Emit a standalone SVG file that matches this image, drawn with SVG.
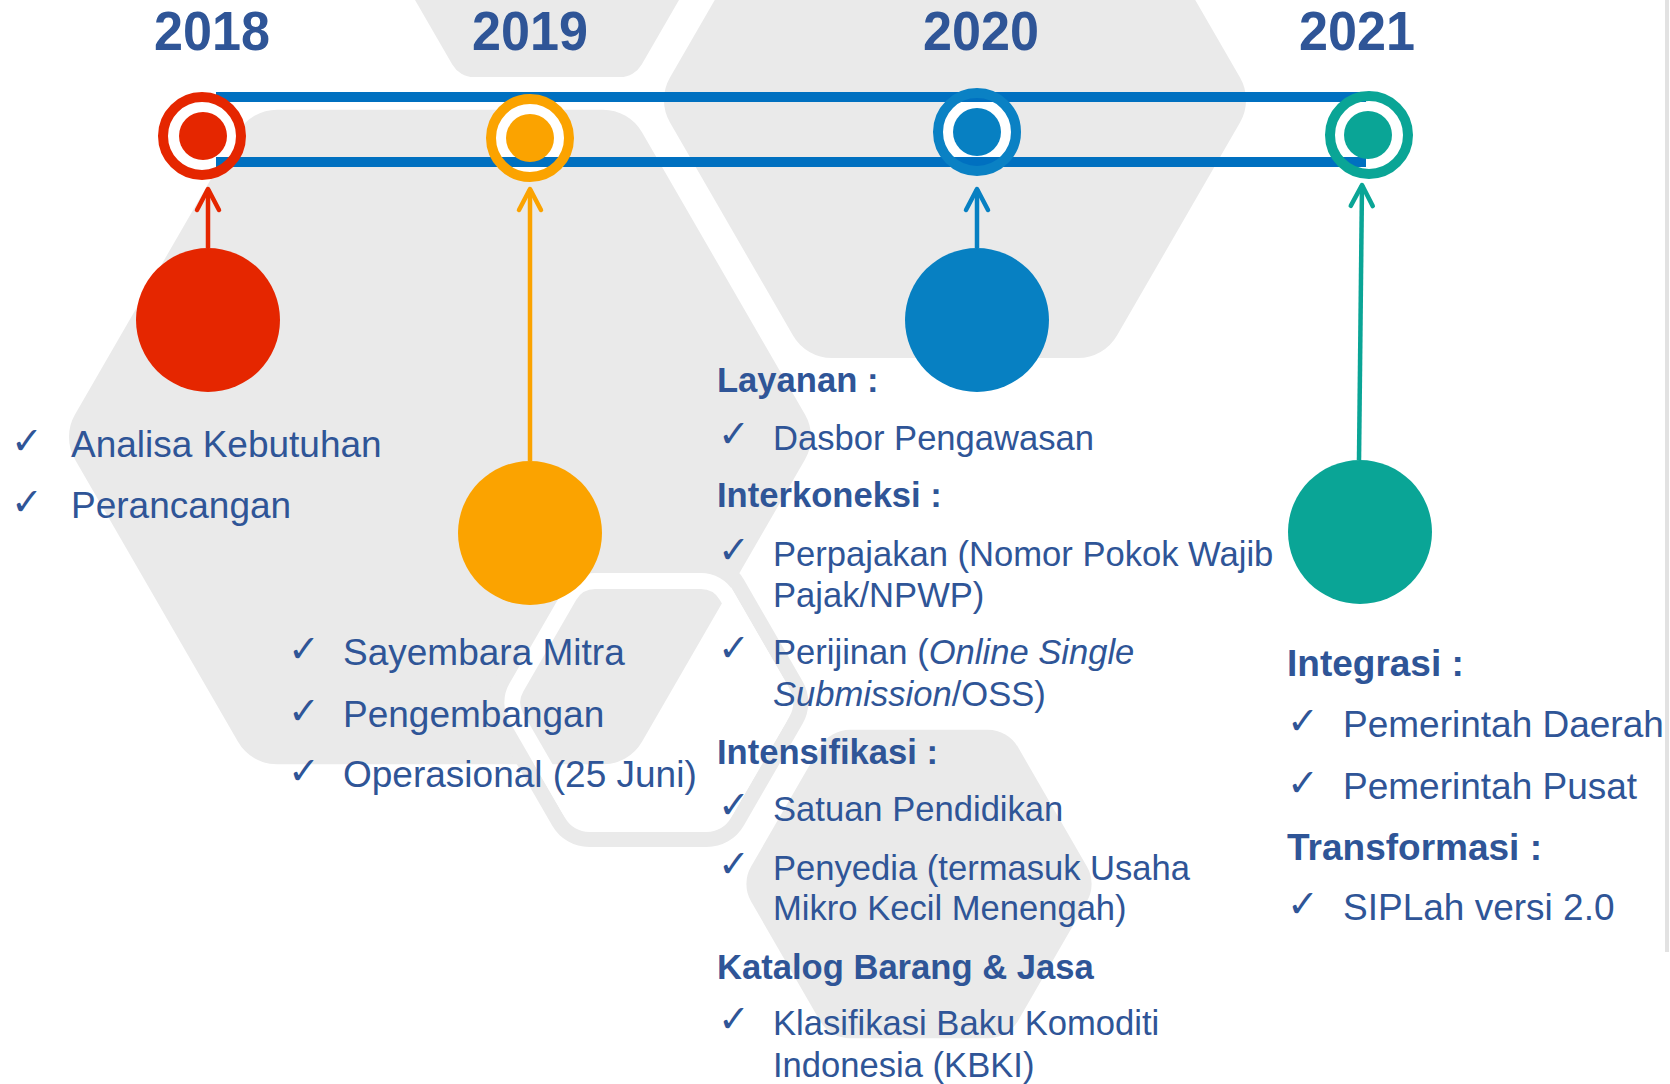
<svg xmlns="http://www.w3.org/2000/svg" width="1670" height="1084" viewBox="0 0 1670 1084">
<style>
.hex{fill:#EAEAEA}
.yr{font-family:"Liberation Sans",Arial,sans-serif;font-weight:bold;font-size:56px;fill:#2F5597;text-anchor:middle}
.t{font-family:"Liberation Sans",Arial,sans-serif;font-size:37px;fill:#2F5597}
.t2{font-family:"Liberation Sans",Arial,sans-serif;font-size:34.6px;fill:#2F5597}
.h{font-family:"Liberation Sans",Arial,sans-serif;font-weight:bold;font-size:37px;fill:#2F5597}
.h2{font-family:"Liberation Sans",Arial,sans-serif;font-weight:bold;font-size:34.6px;fill:#2F5597}
.ck{font-family:"DejaVu Sans",sans-serif;font-size:38px;fill:#2F5597}
.bar{fill:#0070C0}
.ring{fill:none;stroke-width:10}
.arr{fill:none;stroke-width:4.5}
.mk{fill:none;stroke-width:4.5;stroke-linecap:round;stroke-linejoin:round}
</style>
<defs>
<marker id="mRed" markerUnits="userSpaceOnUse" markerWidth="30" markerHeight="30" refX="22" refY="13" orient="auto" overflow="visible"><path class="mk" d="M1,2 L22,13 L1,24" stroke="#E52600"/></marker>
<marker id="mYel" markerUnits="userSpaceOnUse" markerWidth="30" markerHeight="30" refX="22" refY="13" orient="auto" overflow="visible"><path class="mk" d="M1,2 L22,13 L1,24" stroke="#FBA300"/></marker>
<marker id="mBlu" markerUnits="userSpaceOnUse" markerWidth="30" markerHeight="30" refX="22" refY="13" orient="auto" overflow="visible"><path class="mk" d="M1,2 L22,13 L1,24" stroke="#0780C2"/></marker>
<marker id="mTea" markerUnits="userSpaceOnUse" markerWidth="30" markerHeight="30" refX="22" refY="13" orient="auto" overflow="visible"><path class="mk" d="M1,2 L22,13 L1,24" stroke="#0AA596"/></marker>
</defs>
<rect width="1670" height="1084" fill="#FFFFFF"/>
<g id="background">
<path class="hex" d="M714.78,-62 L641.72,64.55 A25 25 0 0 1 620.07,77.05 L473.93,77.05 A25 25 0 0 1 452.28,64.55 L372,-74.5 L459.5,-226 L634.5,-226 L722,-74.5 Z"/>
<path class="hex" d="M805.01,459.5 L641.99,741.85 A45 45 0 0 1 603.02,764.35 L276.98,764.35 A45 45 0 0 1 238.01,741.85 L74.99,459.5 A45 45 0 0 1 74.99,414.5 L238.01,132.15 A45 45 0 0 1 276.98,109.65 L603.02,109.65 A45 45 0 0 1 641.99,132.15 L805.01,414.5 A45 45 0 0 1 805.01,459.5 Z"/>
<path class="hex" d="M1240.01,122.5 L1116.99,335.57 A45 45 0 0 1 1078.02,358.07 L831.98,358.07 A45 45 0 0 1 793.01,335.57 L669.99,122.5 A45 45 0 0 1 669.99,77.5 L806,-158 L1104,-158 L1240.01,77.5 A45 45 0 0 1 1240.01,122.5 Z"/>
<path class="hex" d="M1086.9,901.5 L1018.1,1020.65 A35 35 0 0 1 987.79,1038.15 L850.21,1038.15 A35 35 0 0 1 819.9,1020.65 L751.1,901.5 A35 35 0 0 1 751.1,866.5 L819.9,747.35 A35 35 0 0 1 850.21,729.85 L987.79,729.85 A35 35 0 0 1 1018.1,747.35 L1086.9,866.5 A35 35 0 0 1 1086.9,901.5 Z"/>
<path fill="none" stroke="#EAEAEA" stroke-width="15" d="M796.1,720 L737.2,822 A35 35 0 0 1 706.89,839.5 L589.11,839.5 A35 35 0 0 1 558.8,822 L499.9,720 A35 35 0 0 1 499.9,685 L558.8,583 A35 35 0 0 1 589.11,565.5 L706.89,565.5 A35 35 0 0 1 737.2,583 L796.1,685 A35 35 0 0 1 796.1,720 Z"/>
<path fill="none" stroke="#FFFFFF" stroke-width="16" d="M779.64,717.5 L726.81,809 A30 30 0 0 1 700.83,824 L595.17,824 A30 30 0 0 1 569.19,809 L516.36,717.5 A30 30 0 0 1 516.36,687.5 L569.19,596 A30 30 0 0 1 595.17,581 L700.83,581 A30 30 0 0 1 726.81,596 L779.64,687.5 A30 30 0 0 1 779.64,717.5 Z"/>
<rect x="1665" y="0" width="4" height="952" fill="#E2E2E2"/>
<circle cx="202" cy="136" r="35" fill="#FFFFFF"/>
<circle cx="530" cy="138" r="35" fill="#FFFFFF"/>
<circle cx="977" cy="132" r="35" fill="#FFFFFF"/>
<circle cx="1369" cy="135" r="35" fill="#FFFFFF"/>
</g>
<g id="connectors">
<rect class="bar" x="216" y="92" width="1150" height="10"/>
<rect class="bar" x="216" y="157" width="1150" height="10"/>
<path class="arr" stroke="#E52600" d="M208,248 L208,189" marker-end="url(#mRed)"/>
<path class="arr" stroke="#FBA300" d="M530,461 L530,189" marker-end="url(#mYel)"/>
<path class="arr" stroke="#0780C2" d="M977,248 L977,189" marker-end="url(#mBlu)"/>
<path class="arr" stroke="#0AA596" d="M1359,460 L1362,185" marker-end="url(#mTea)"/>
</g>
<g id="node-2018">
<text class="yr" x="212" y="50" textLength="116" lengthAdjust="spacingAndGlyphs">2018</text>
<circle class="ring" cx="202" cy="136" r="39" stroke="#E52600"/>
<circle cx="203" cy="136" r="24" fill="#E52600"/>
<circle cx="208" cy="320" r="72" fill="#E52600"/>
<text class="ck" x="11" y="454">✓</text>
<text class="t" x="71" y="457">Analisa Kebutuhan</text>
<text class="ck" x="11" y="515">✓</text>
<text class="t" x="71" y="518">Perancangan</text>
</g>
<g id="node-2019">
<text class="yr" x="530" y="50" textLength="116" lengthAdjust="spacingAndGlyphs">2019</text>
<circle class="ring" cx="530" cy="138" r="39" stroke="#FBA300"/>
<circle cx="530" cy="138" r="24" fill="#FBA300"/>
<circle cx="530" cy="533" r="72" fill="#FBA300"/>
<text class="ck" x="288" y="662">✓</text>
<text class="t" x="343" y="665">Sayembara Mitra</text>
<text class="ck" x="288" y="724">✓</text>
<text class="t" x="343" y="727">Pengembangan</text>
<text class="ck" x="288" y="784">✓</text>
<text class="t" x="343" y="787">Operasional (25 Juni)</text>
</g>
<g id="node-2020">
<text class="yr" x="981" y="50" textLength="116" lengthAdjust="spacingAndGlyphs">2020</text>
<circle class="ring" cx="977" cy="132" r="39" stroke="#0A81C4"/>
<circle cx="977" cy="132" r="24" fill="#0780C2"/>
<circle cx="977" cy="320" r="72" fill="#0780C2"/>
<text class="h2" x="717" y="392">Layanan :</text>
<text class="ck" x="718" y="447">✓</text>
<text class="t2" x="773" y="450">Dasbor Pengawasan</text>
<text class="h2" x="717" y="507">Interkoneksi :</text>
<text class="ck" x="718" y="563">✓</text>
<text class="t2" x="773" y="566">Perpajakan (Nomor Pokok Wajib</text>
<text class="t2" x="773" y="607">Pajak/NPWP)</text>
<text class="ck" x="718" y="661">✓</text>
<text class="t2" x="773" y="664">Perijinan (<tspan font-style="italic">Online Single</tspan></text>
<text class="t2" x="773" y="706"><tspan font-style="italic">Submission</tspan>/OSS)</text>
<text class="h2" x="717" y="764">Intensifikasi :</text>
<text class="ck" x="718" y="818">✓</text>
<text class="t2" x="773" y="821">Satuan Pendidikan</text>
<text class="ck" x="718" y="877">✓</text>
<text class="t2" x="773" y="880">Penyedia (termasuk Usaha</text>
<text class="t2" x="773" y="920">Mikro Kecil Menengah)</text>
<text class="h2" x="717" y="979">Katalog Barang &amp; Jasa</text>
<text class="ck" x="718" y="1032">✓</text>
<text class="t2" x="773" y="1035">Klasifikasi Baku Komoditi</text>
<text class="t2" x="773" y="1077">Indonesia (KBKI)</text>
</g>
<g id="node-2021">
<text class="yr" x="1357" y="50" textLength="116" lengthAdjust="spacingAndGlyphs">2021</text>
<circle class="ring" cx="1369" cy="135" r="39" stroke="#0AA596"/>
<circle cx="1368" cy="135" r="24" fill="#0AA596"/>
<circle cx="1360" cy="532" r="72" fill="#0AA596"/>
<text class="h" x="1287" y="676">Integrasi :</text>
<text class="ck" x="1287" y="734">✓</text>
<text class="t" x="1343" y="737">Pemerintah Daerah</text>
<text class="ck" x="1287" y="796">✓</text>
<text class="t" x="1343" y="799">Pemerintah Pusat</text>
<text class="h" x="1287" y="860">Transformasi :</text>
<text class="ck" x="1287" y="917">✓</text>
<text class="t" x="1343" y="920">SIPLah versi 2.0</text>
</g>
</svg>
